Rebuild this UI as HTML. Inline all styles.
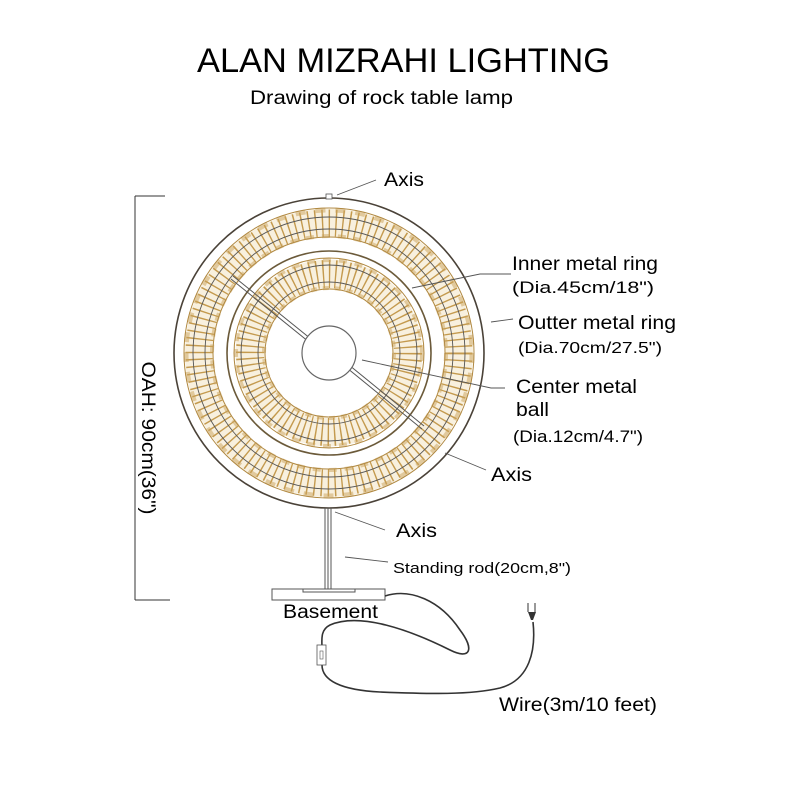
<!DOCTYPE html>
<html><head><meta charset="utf-8"><style>
html,body{margin:0;padding:0;background:#fff;}
svg{display:block;font-family:"Liberation Sans",Arial,sans-serif;}
</style></head><body>
<svg width="800" height="800" viewBox="0 0 800 800" xmlns="http://www.w3.org/2000/svg">
<rect width="800" height="800" fill="#fff"/>
<text x="197" y="72" font-size="34" textLength="413" lengthAdjust="spacingAndGlyphs" fill="#000">ALAN MIZRAHI LIGHTING</text>
<text x="250" y="104" font-size="19" textLength="263" lengthAdjust="spacingAndGlyphs" fill="#000">Drawing of rock table lamp</text>

<!-- outer crystal band -->
<circle cx="329" cy="353" r="130" fill="none" stroke="#f8f0de" stroke-width="28"/>
<circle cx="329" cy="353" r="130" fill="none" stroke="#c49a4e" stroke-width="27" stroke-dasharray="1.4 5.4"/>
<circle cx="329" cy="353" r="143" fill="none" stroke="#c9a25a" stroke-width="5" stroke-dasharray="10 10" opacity="0.5"/>
<circle cx="329" cy="353" r="117" fill="none" stroke="#c9a25a" stroke-width="4" stroke-dasharray="8 8" opacity="0.5"/>
<circle cx="329" cy="353" r="145" fill="none" stroke="#b08840" stroke-width="1"/>
<circle cx="329" cy="353" r="116" fill="none" stroke="#b08840" stroke-width="1"/>
<circle cx="329" cy="353" r="124" fill="none" stroke="#555" stroke-width="0.9"/>
<circle cx="329" cy="353" r="136" fill="none" stroke="#555" stroke-width="0.9"/>

<!-- inner crystal band -->
<circle cx="329" cy="353" r="79" fill="none" stroke="#f8f0de" stroke-width="29"/>
<circle cx="329" cy="353" r="79" fill="none" stroke="#c49a4e" stroke-width="28" stroke-dasharray="1.4 4.8"/>
<circle cx="329" cy="353" r="93" fill="none" stroke="#c9a25a" stroke-width="4" stroke-dasharray="8 8" opacity="0.5"/>
<circle cx="329" cy="353" r="65" fill="none" stroke="#c9a25a" stroke-width="4" stroke-dasharray="6 6" opacity="0.5"/>
<circle cx="329" cy="353" r="95" fill="none" stroke="#b08840" stroke-width="1"/>
<circle cx="329" cy="353" r="64" fill="none" stroke="#b08840" stroke-width="1"/>
<circle cx="329" cy="353" r="71" fill="none" stroke="#555" stroke-width="0.9"/>
<circle cx="329" cy="353" r="88" fill="none" stroke="#555" stroke-width="0.9"/>

<!-- outer & inner metal ring -->
<circle cx="329" cy="353" r="155" fill="none" stroke="#4a4238" stroke-width="1.6"/>
<circle cx="329" cy="353" r="102" fill="none" stroke="#6b5a3a" stroke-width="1.6"/>
<!-- diagonal axis rod -->
<g stroke="#555" stroke-width="1" fill="none">
<line x1="233" y1="276" x2="311" y2="339"/>
<line x1="231" y1="279" x2="309" y2="342"/>
<line x1="349" y1="365" x2="424" y2="426"/>
<line x1="347" y1="368" x2="422" y2="429"/>
</g>
<circle cx="329" cy="353" r="27" fill="#fff" stroke="#666" stroke-width="1.2"/>
<rect x="326" y="194" width="6" height="5" fill="#fff" stroke="#555" stroke-width="0.8"/>
<!-- standing rod -->
<g stroke="#555" stroke-width="1" fill="none">
<line x1="325" y1="508" x2="325" y2="589"/>
<line x1="328" y1="508" x2="328" y2="589"/>
<line x1="331" y1="508" x2="331" y2="589"/>
<rect x="272" y="589" width="113" height="11" fill="#fff"/>
<rect x="303" y="589" width="52" height="3"/>
</g>
<!-- wire -->
<path d="M385 596 C410 588 440 600 460 630 C475 650 470 660 450 650 C410 630 360 612 330 625 C320 630 322 640 322 648 M322 665 C322 680 340 690 380 692 C430 694 470 695 500 688 C530 680 536 650 533 622" fill="none" stroke="#333" stroke-width="1.6"/>
<rect x="317" y="645" width="9" height="20" fill="#fff" stroke="#555" stroke-width="0.8"/>
<rect x="320" y="651" width="3" height="8" fill="none" stroke="#555" stroke-width="0.6"/>
<path d="M531 620 L528 612 L536 612 L533 620 Z" fill="#333"/>
<line x1="528" y1="603" x2="528" y2="612" stroke="#333" stroke-width="1"/>
<line x1="535" y1="603" x2="535" y2="612" stroke="#333" stroke-width="1"/>
<!-- dimension -->
<g stroke="#333" stroke-width="1" fill="none">
<line x1="135" y1="196" x2="135" y2="600"/>
<line x1="135" y1="196" x2="165" y2="196"/>
<line x1="135" y1="600" x2="170" y2="600"/>
</g>
<text x="0" y="0" font-size="19" textLength="153" lengthAdjust="spacingAndGlyphs" text-anchor="middle" transform="translate(142,438) rotate(90)">OAH: 90cm(36")</text>
<!-- leaders -->
<g stroke="#555" stroke-width="0.9" fill="none">
<line x1="337" y1="195" x2="376" y2="180"/>
<polyline points="412,288 480,274 511,274"/>
<line x1="491" y1="322" x2="513" y2="319"/>
<polyline points="362,360 491,388 505,388"/>
<line x1="445" y1="453" x2="486" y2="470"/>
<line x1="335" y1="512" x2="385" y2="530"/>
<line x1="345" y1="557" x2="388" y2="562"/>
</g>
<g fill="#000">
<text x="384" y="186" font-size="19" textLength="40" lengthAdjust="spacingAndGlyphs">Axis</text>
<text x="512" y="270" font-size="19" textLength="146" lengthAdjust="spacingAndGlyphs">Inner metal ring</text>
<text x="512" y="293" font-size="17" textLength="142" lengthAdjust="spacingAndGlyphs">(Dia.45cm/18")</text>
<text x="518" y="329" font-size="19" textLength="158" lengthAdjust="spacingAndGlyphs">Outter metal ring</text>
<text x="518" y="353" font-size="16" textLength="144" lengthAdjust="spacingAndGlyphs">(Dia.70cm/27.5")</text>
<text x="516" y="393" font-size="19" textLength="121" lengthAdjust="spacingAndGlyphs">Center metal</text>
<text x="516" y="416" font-size="19" textLength="33" lengthAdjust="spacingAndGlyphs">ball</text>
<text x="513" y="442" font-size="17" textLength="130" lengthAdjust="spacingAndGlyphs">(Dia.12cm/4.7")</text>
<text x="491" y="481" font-size="19" textLength="41" lengthAdjust="spacingAndGlyphs">Axis</text>
<text x="396" y="537" font-size="19" textLength="41" lengthAdjust="spacingAndGlyphs">Axis</text>
<text x="393" y="573" font-size="15" textLength="178" lengthAdjust="spacingAndGlyphs">Standing rod(20cm,8")</text>
<text x="283" y="618" font-size="19" textLength="95" lengthAdjust="spacingAndGlyphs">Basement</text>
<text x="499" y="711" font-size="19" textLength="158" lengthAdjust="spacingAndGlyphs">Wire(3m/10 feet)</text>
</g>
</svg>
</body></html>
